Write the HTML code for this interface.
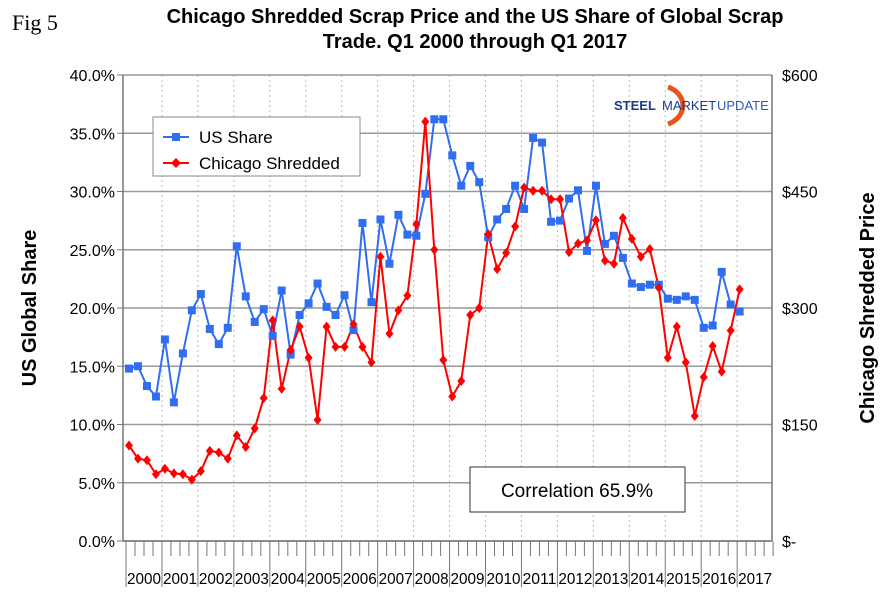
<!DOCTYPE html>
<html><head><meta charset="utf-8">
<style>
body{margin:0;background:#fff;}
svg{display:block;font-family:"Liberation Sans",Arial,sans-serif;}
</style></head>
<body>
<svg id="chart" width="886" height="596" viewBox="0 0 886 596">
<rect width="886" height="596" fill="#fff"/>
<text x="12" y="30" font-family="Liberation Serif,serif" font-size="22">Fig 5</text>
<text x="475" y="23" text-anchor="middle" font-size="20" font-weight="bold">Chicago Shredded Scrap Price and the US Share of Global Scrap</text>
<text x="475" y="48" text-anchor="middle" font-size="20" font-weight="bold">Trade. Q1 2000 through Q1 2017</text>
<g id="grid"></g>
<g id="axes"></g>
<g id="series"></g>
<g>
<rect x="153" y="117" width="207" height="59" fill="#fff" stroke="#888"/>
<g>
<line x1="163" y1="137" x2="189" y2="137" stroke="#2F6EF0" stroke-width="2"/>
<rect x="172" y="133" width="8" height="8" fill="#2F6EF0"/>
<text x="199" y="143" font-size="17">US  Share</text></g>
<g>
<line x1="163" y1="163" x2="189" y2="163" stroke="#FF0000" stroke-width="2"/>
<path d="M176 158 L181 163 L176 168 L171 163Z" fill="#FF0000"/>
<text x="199" y="169" font-size="17">Chicago Shredded</text></g>
</g>
<g>
<path d="M668 87 A24 20 0 0 1 668 124" fill="none" stroke="#E8541A" stroke-width="5"/>
<text x="614" y="110" font-size="13" font-weight="bold" fill="#1A3C8C">STEEL</text>
<text x="662" y="110" font-size="13" fill="#1A3C8C">MARKET</text>
<text x="717" y="110" font-size="13" fill="#2D5BB8">UPDATE</text>
</g>
<rect x="470" y="467" width="215" height="45" fill="#fff" stroke="#333"/>
<text x="577" y="497" text-anchor="middle" font-size="19">Correlation 65.9%</text>
<text transform="translate(36,308) rotate(-90)" text-anchor="middle" font-size="20" font-weight="bold">US Global Share</text>
<text transform="translate(874,308) rotate(-90)" text-anchor="middle" font-size="20" font-weight="bold">Chicago Shredded Price</text>
</svg>
<script>
const years = ["2000","2001","2002","2003","2004","2005","2006","2007","2008","2009","2010","2011","2012","2013","2014","2015","2016","2017"];
const leftTicks = [0,5,10,15,20,25,30,35,40];
const rightTicks = [0,150,300,450,600];
const usShare = [14.8,15.0,13.3,12.4,17.3,11.9,16.1,19.8,21.2,18.2,16.9,18.3,25.3,21.0,18.8,19.9,17.6,21.5,16.0,19.4,20.4,22.1,20.1,19.4,21.1,18.1,27.3,20.5,27.6,23.8,28.0,26.3,26.2,29.8,36.2,36.2,33.1,30.5,32.2,30.8,26.1,27.6,28.5,30.5,28.5,34.6,34.2,27.4,27.5,29.4,30.1,24.9,30.5,25.5,26.2,24.3,22.1,21.8,22.0,22.0,20.8,20.7,21.0,20.7,18.3,18.5,23.1,20.3,19.7];
const chicago = [123,106,104,86,93,87,86,79,90,116,114,106,136,121,145,184,284,196,246,276,236,156,276,250,250,279,250,230,366,267,297,316,408,540,375,233,186,206,291,300,395,350,371,405,455,451,451,440,440,372,383,387,413,361,357,416,389,366,376,326,236,276,230,161,211,251,218,271,324];

const NS="http://www.w3.org/2000/svg";
const X0=123,X1=772,Y0=541,Y1=75;
const yL=v=>Y0-(v/40)*(Y0-Y1);
const yR=v=>Y0-(v/600)*(Y0-Y1);
const xQ=i=>129+i*8.98;
const yearX=k=>126+k*35.95;
function mk(tag,attrs,parent){const e=document.createElementNS(NS,tag);for(const k in attrs)e.setAttribute(k,attrs[k]);parent.appendChild(e);return e;}
const grid=document.getElementById('grid'),axes=document.getElementById('axes'),series=document.getElementById('series');

years.forEach((y,k)=>{
  const x=yearX(k);
  if(k>0){const g=mk('line',{x1:x,y1:Y1,x2:x,y2:Y0,stroke:'#bbb','stroke-dasharray':'2,3'},grid);
  
  }
  const s=mk('line',{x1:x,y1:Y0,x2:x,y2:587,stroke:'#777'},axes);
  
  
  for(let q=1;q<4;q++){mk('line',{x1:x+q*9,y1:Y0,x2:x+q*9,y2:556,stroke:'#777'},axes);}
  const t=mk('text',{x:x+1,y:584,'font-size':'16',textLength:'34',lengthAdjust:'spacingAndGlyphs'},axes);
  t.textContent=y;
  
  
});
mk('line',{x1:yearX(18),y1:Y0,x2:yearX(18),y2:556,stroke:'#777'},axes);
leftTicks.forEach(v=>{
  const y=yL(v);
  const g=mk('line',{x1:X0,y1:y,x2:X1,y2:y,stroke:'#999','stroke-width':1.5},grid);
  
  
  mk('line',{x1:X0-6,y1:y,x2:X0,y2:y,stroke:'#777'},axes);
  const t=mk('text',{x:X0-8,y:y+6,'text-anchor':'end','font-size':'16'},axes);
  t.textContent=v.toFixed(1)+'%';
  
  
});
rightTicks.forEach(v=>{
  const y=yR(v);
  const t=mk('text',{x:X1+10,y:y+6,'font-size':'16'},axes);
  t.textContent=v===0?'$-':'$'+v;
  
  
});
mk('line',{x1:X0,y1:Y1,x2:X0,y2:Y0,stroke:'#777','stroke-width':1.5},axes);
mk('line',{x1:X1,y1:Y1,x2:X1,y2:Y0,stroke:'#777','stroke-width':1.5},axes);
mk('line',{x1:X0,y1:Y0,x2:X1,y2:Y0,stroke:'#777','stroke-width':1.5},axes);

const pl1=mk('polyline',{points:usShare.map((v,i)=>xQ(i)+','+yL(v)).join(' '),fill:'none',stroke:'#2F6EF0','stroke-width':2},series);


const pl2=mk('polyline',{points:chicago.map((v,i)=>xQ(i)+','+yR(v)).join(' '),fill:'none',stroke:'#FF0000','stroke-width':2},series);


usShare.forEach((v,i)=>{
  const r=mk('rect',{x:xQ(i)-4,y:yL(v)-4,width:8,height:8,fill:'#2F6EF0'},series);
  
  
});
chicago.forEach((v,i)=>{
  const x=xQ(i),y=yR(v);
  const p=mk('path',{d:`M${x} ${y-5}L${x+4} ${y}L${x} ${y+5}L${x-4} ${y}Z`,fill:'#FF0000'},series);
  
  
});
</script>
</body></html>
